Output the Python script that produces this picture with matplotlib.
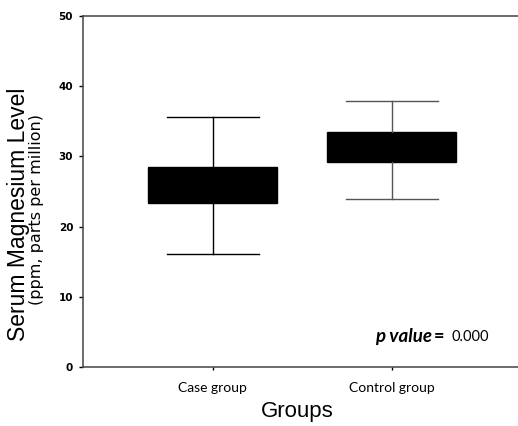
import matplotlib.pyplot as plt

groups = ['Case group', 'Control group']
whislo = [16.1, 23.9]
q1 = [23.4, 29.2]
med = [26.0, 31.3]
q3 = [28.5, 33.5]
whishi = [35.6, 37.9]
line_colors = ['black', '#555555']
yticks = [0, 10, 20, 30, 40, 50]

fig = plt.figure(figsize=(5.18, 4.26), dpi=100)
ax = fig.add_axes([0.160, 0.1385, 0.840, 0.8245])

for i, g in enumerate(groups):
    stats = [{'whislo': whislo[i], 'q1': q1[i], 'med': med[i],
              'q3': q3[i], 'whishi': whishi[i], 'label': g}]
    c = line_colors[i]
    ax.bxp(stats, positions=[i + 1], widths=0.72, capwidths=0.51,
           showfliers=False, patch_artist=True,
           boxprops=dict(facecolor='black', edgecolor='black', linewidth=1),
           whiskerprops=dict(color=c, linewidth=1.0),
           capprops=dict(color=c, linewidth=1.0),
           medianprops=dict(color='black', linewidth=0))

ax.set_xlim(0.274, 2.704)
ax.set_ylim(0, 50)
ax.set_yticks(yticks)
ax.set_yticklabels([str(v) for v in yticks], fontsize=7.5, fontweight='heavy',
                   family='DejaVu Sans')
ax.set_xticks([1, 2])
ax.set_xticklabels(groups, family='Lato', fontsize=10)
ax.tick_params(axis='y', length=3, width=1, pad=4)
ax.tick_params(axis='x', length=2, width=1, pad=9)

for s in ['left', 'bottom', 'top']:
    ax.spines[s].set_color('#444444')
    ax.spines[s].set_linewidth(1.1)
ax.spines['right'].set_visible(False)

ax.text(1.905, 4.3, 'p value', fontsize=13.5, family='Lato', fontweight='bold',
        style='italic', ha='left', va='center')
ax.text(2.236, 4.3, '=', fontsize=13, fontweight='bold', family='Lato',
        ha='left', va='center')
ax.text(2.33, 4.3, '0.000', fontsize=10.5, family='Lato', ha='left', va='center')

fig.text(0.574, 0.034, 'Groups', fontsize=16, family='Liberation Sans',
         ha='center', va='center')
fig.text(0.036, 0.498, 'Serum Magnesium Level', fontsize=16.5,
         family='Liberation Sans', rotation=90, ha='center', va='center')
fig.text(0.071, 0.509, '(ppm, parts per million)', fontsize=11.5,
         family='DejaVu Sans', rotation=90, ha='center', va='center')

fig.savefig('out.png', dpi=100)
